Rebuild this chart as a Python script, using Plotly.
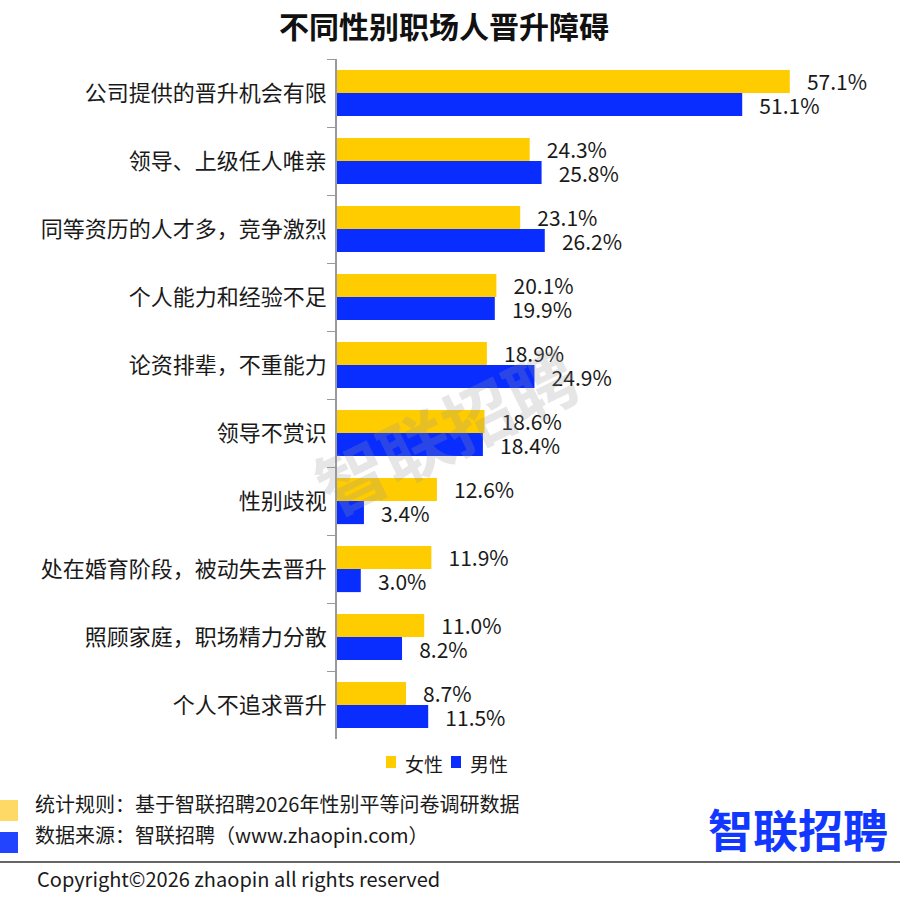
import plotly.graph_objects as go

categories = ["公司提供的晋升机会有限", "领导、上级任人唯亲", "同等资历的人才多，竞争激烈",
              "个人能力和经验不足", "论资排辈，不重能力", "领导不赏识", "性别歧视",
              "处在婚育阶段，被动失去晋升", "照顾家庭，职场精力分散", "个人不追求晋升"]
female = [57.1, 24.3, 23.1, 20.1, 18.9, 18.6, 12.6, 11.9, 11.0, 8.7]
male = [51.1, 25.8, 26.2, 19.9, 24.9, 18.4, 3.4, 3.0, 8.2, 11.5]
series_names = ["女性", "男性"]

FONT = "Noto Sans CJK SC"
YELLOW = "#FFCC00"
BLUE = "#0A2DFF"

W, H = 900, 909
L, R, T, B = 337, 20, 59, 170
PW, PH = W - L - R, H - T - B


def px(x):
    return (x - L) / PW


def py(y):
    return (H - B - y) / PH


fig = go.Figure()
for name, vals, col in [(series_names[0], female, YELLOW), (series_names[1], male, BLUE)]:
    fig.add_trace(go.Bar(
        y=categories, x=vals, name=name, orientation="h",
        marker=dict(color=col, line=dict(width=0)),
        text=[f"\u00a0\u00a0\u00a0{v:.1f}%" for v in vals],
        textposition="outside", constraintext="none", cliponaxis=False,
        textfont=dict(family=FONT, size=21, color="#1a1a1a"),
        hoverinfo="skip", showlegend=False,
    ))

fig.update_layout(
    width=W, height=H,
    margin=dict(l=L, r=R, t=T, b=B),
    paper_bgcolor="white", plot_bgcolor="white",
    barmode="group", bargap=0.32, bargroupgap=0,
    font=dict(family=FONT, color="#1a1a1a"),
    title=dict(text="<b>不同性别职场人晋升障碍</b>", x=444 / W, xref="container", xanchor="center",
               y=1 - 27 / H, yref="container", yanchor="middle",
               font=dict(family=FONT, size=30, color="#111111")),
    xaxis=dict(range=[0, PW / 7.93], visible=False, showgrid=False, zeroline=False),
    yaxis=dict(autorange="reversed", showline=True, linecolor="#9a9a9a", linewidth=1.5,
               ticks="outside", tickson="boundaries", ticklen=8, tickcolor="#9a9a9a",
               tickfont=dict(family=FONT, size=22, color="#1a1a1a"),
               ticklabelstandoff=4, showgrid=False),
    showlegend=False,
)

# legend (drawn)
for (sx, tx, name, col) in [(386, 405, series_names[0], YELLOW), (451, 470, series_names[1], BLUE)]:
    fig.add_shape(type="rect", xref="paper", yref="paper", x0=px(sx), x1=px(sx + 10),
                  y0=py(756), y1=py(768), fillcolor=col, line=dict(width=0))
    fig.add_annotation(text=name, xref="paper", yref="paper", x=px(tx - 2), y=py(763),
                       xanchor="left", yanchor="middle", showarrow=False,
                       font=dict(family=FONT, size=19, color="#1a1a1a"))

# watermark
fig.add_annotation(text="<b>智联招聘</b>", xref="paper", yref="paper", x=px(445), y=py(428),
                   xanchor="center", yanchor="middle",
                   showarrow=False, textangle=-26,
                   font=dict(family=FONT, size=70, color="rgba(150,150,150,0.24)"))

# footer notes
fig.add_shape(type="rect", xref="paper", yref="paper", x0=px(0), x1=px(18), y0=py(800), y1=py(821),
              fillcolor="#FFD966", line=dict(width=0))
fig.add_shape(type="rect", xref="paper", yref="paper", x0=px(0), x1=px(18), y0=py(832), y1=py(853),
              fillcolor="#2344FF", line=dict(width=0))
fig.add_annotation(text="统计规则：基于智联招聘2026年性别平等问卷调研数据", xref="paper", yref="paper",
                   x=px(33), y=py(803), xanchor="left", yanchor="middle", showarrow=False,
                   font=dict(family=FONT, size=20, color="#1a1a1a"))
fig.add_annotation(text="数据来源：智联招聘（www.zhaopin.com）", xref="paper", yref="paper",
                   x=px(33), y=py(834), xanchor="left", yanchor="middle", showarrow=False,
                   font=dict(family=FONT, size=20, color="#1a1a1a"))
fig.add_annotation(text="<b>智联招聘</b>", xref="paper", yref="paper",
                   x=px(890), y=py(828), xanchor="right", yanchor="middle", showarrow=False,
                   font=dict(family=FONT, size=45, color="#1238FF"))
fig.add_shape(type="line", xref="paper", yref="paper", x0=px(0), x1=px(900), y0=py(862), y1=py(862),
              line=dict(color="#333333", width=1.5))
fig.add_annotation(text="Copyright©2026 zhaopin all rights reserved", xref="paper", yref="paper",
                   x=px(35), y=py(878), xanchor="left", yanchor="middle", showarrow=False,
                   font=dict(family=FONT, size=20, color="#1a1a1a"))

fig.write_html("out.html", config={"displayModeBar": False},
               post_script="document.body.style.margin='0';")
